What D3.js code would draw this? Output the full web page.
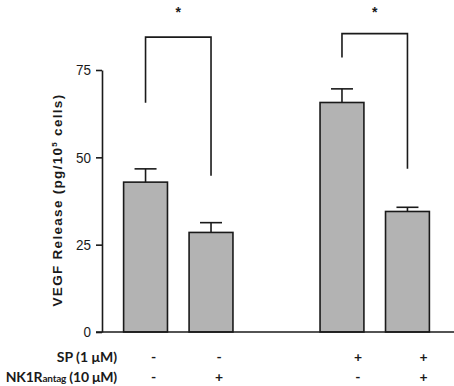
<!DOCTYPE html>
<html>
<head>
<meta charset="utf-8">
<script src="https://cdn.jsdelivr.net/npm/d3@7"></script>
<style>
  body { margin: 0; background: #fff; }
  svg { display: block; }
</style>
</head>
<body>
<div id="chart-area"></div>
<script>
// data
const groups = ["ctrl", "antag", "", "sp", "sp_antag"]   // "" is the empty slot between the pairs
const barKeys = ["ctrl", "antag", "sp", "sp_antag"]
const means = [42.9, 28.5, 65.7, 34.5]
const errors = [3.8, 2.8, 3.9, 1.2]
const spRow = ["-", "-", "+", "+"]
const antagRow = ["-", "+", "-", "+"]
const yTicks = [0, 25, 50, 75]

// significance brackets: from bar, to bar, leg bottoms, top
const brackets = [
    { from: "ctrl", to: "antag", leftEnd: 65.6, rightEnd: 44.7, top: 84.4 },
    { from: "sp", to: "sp_antag", leftEnd: 78.6, rightEnd: 46.7, top: 85.4 }
]
const starLevel = 92.5

const W = 454, H = 386
const svg = d3.select("#chart-area").append("svg")
    .attr("width", W)
    .attr("height", H)

const x = d3.scaleBand()
    .domain(groups)
    .range([102, 451])
    .paddingInner(0.33)
    .paddingOuter(0.33)

const y = d3.scaleLinear()
    .domain([0, 75])
    .range([332, 70])

const ink = "#1a1a1a"
const sans = "'Liberation Sans', Arial, sans-serif"
const labelFont = "Lato, 'Open Sans', sans-serif"

// bars
svg.selectAll(".bar")
    .data(barKeys)
    .enter().append("rect")
    .attr("class", "bar")
    .attr("x", d => x(d))
    .attr("y", (d, i) => y(means[i]))
    .attr("width", x.bandwidth())
    .attr("height", (d, i) => y(0) - y(means[i]))
    .attr("fill", "#b3b3b3")
    .attr("stroke", ink)
    .attr("stroke-width", 1.6)

// error bars (upper only)
const cx = d => x(d) + x.bandwidth() / 2
const capHalf = 11
const err = svg.selectAll(".err")
    .data(barKeys)
    .enter().append("g")
    .attr("class", "err")
    .attr("stroke", ink)
    .attr("stroke-width", 1.6)
err.append("line")
    .attr("x1", d => cx(d)).attr("x2", d => cx(d))
    .attr("y1", (d, i) => y(means[i]))
    .attr("y2", (d, i) => y(means[i] + errors[i]))
err.append("line")
    .attr("x1", d => cx(d) - capHalf).attr("x2", d => cx(d) + capHalf)
    .attr("y1", (d, i) => y(means[i] + errors[i]))
    .attr("y2", (d, i) => y(means[i] + errors[i]))

// y axis
const yAxis = svg.append("g")
    .attr("transform", "translate(102,0)")
    .call(d3.axisLeft(y).tickValues(yTicks).tickSize(6).tickSizeOuter(0).tickPadding(5))
yAxis.selectAll("path, line").attr("stroke", ink).attr("stroke-width", 1.6)
// narrow digits: squeeze the labels
yAxis.selectAll("text")
    .attr("font-family", sans)
    .attr("font-size", 15)
    .attr("fill", ink)
    .attr("lengthAdjust", "spacingAndGlyphs")
    .attr("textLength", d => String(d).length * 7.5)

// x axis line
svg.append("line")
    .attr("x1", 96).attr("x2", W)
    .attr("y1", y(0)).attr("y2", y(0))
    .attr("stroke", ink)
    .attr("stroke-width", 1.6)

// y label
const yLabel = svg.append("text")
    .attr("transform", `translate(62, ${(y(0) + y(75)) / 2 - 1}) rotate(-90)`)
    .attr("text-anchor", "middle")
    .attr("font-family", sans)
    .attr("font-weight", "bold")
    .attr("font-size", 13.5)
    .attr("letter-spacing", 1.3)
    .attr("fill", ink)
yLabel.append("tspan").text("VEGF Release (pg/10")
yLabel.append("tspan").attr("dy", -5).attr("font-size", 8).text("5")
yLabel.append("tspan").attr("dy", 5).text(" cells)")

// brackets
svg.selectAll(".bracket")
    .data(brackets)
    .enter().append("path")
    .attr("class", "bracket")
    .attr("fill", "none")
    .attr("stroke", ink)
    .attr("stroke-width", 1.6)
    .attr("d", d => `M${cx(d.from)},${y(d.leftEnd)}V${y(d.top)}H${cx(d.to)}V${y(d.rightEnd)}`)

svg.selectAll(".star")
    .data(brackets)
    .enter().append("text")
    .attr("class", "star")
    .attr("x", d => (cx(d.from) + cx(d.to)) / 2)
    .attr("y", y(starLevel) + 4)
    .attr("text-anchor", "middle")
    .attr("dominant-baseline", "middle")
    .attr("font-family", sans)
    .attr("font-weight", "bold")
    .attr("font-size", 14)
    .attr("fill", ink)
    .text("*")

// treatment rows
const rowY = [362, 382]
const markOffset = 8
svg.append("text")
    .attr("x", 117).attr("y", rowY[0])
    .attr("text-anchor", "end")
    .attr("font-family", labelFont)
    .attr("font-weight", "bold")
    .attr("font-size", 14)
    .attr("fill", ink)
    .text("SP (1 \u03bcM)")
const nk = svg.append("text")
    .attr("x", 117).attr("y", rowY[1])
    .attr("text-anchor", "end")
    .attr("font-family", labelFont)
    .attr("font-weight", "bold")
    .attr("font-size", 14)
    .attr("letter-spacing", -0.2)
    .attr("fill", ink)
nk.append("tspan").text("NK1R")
nk.append("tspan").attr("font-size", 10).text("antag")
nk.append("tspan").text(" (10 \u03bcM)")

;[spRow, antagRow].forEach((row, r) => {
    svg.selectAll(".mark" + r)
        .data(barKeys)
        .enter().append("text")
        .attr("x", d => cx(d) + markOffset + (d === "sp" || d === "sp_antag" ? 8 : 0))
        .attr("y", rowY[r])
        .attr("text-anchor", "middle")
        .attr("font-family", labelFont)
        .attr("font-weight", "bold")
        .attr("font-size", 14)
        .attr("fill", ink)
        .text((d, i) => row[i])
})
</script>
</body>
</html>
